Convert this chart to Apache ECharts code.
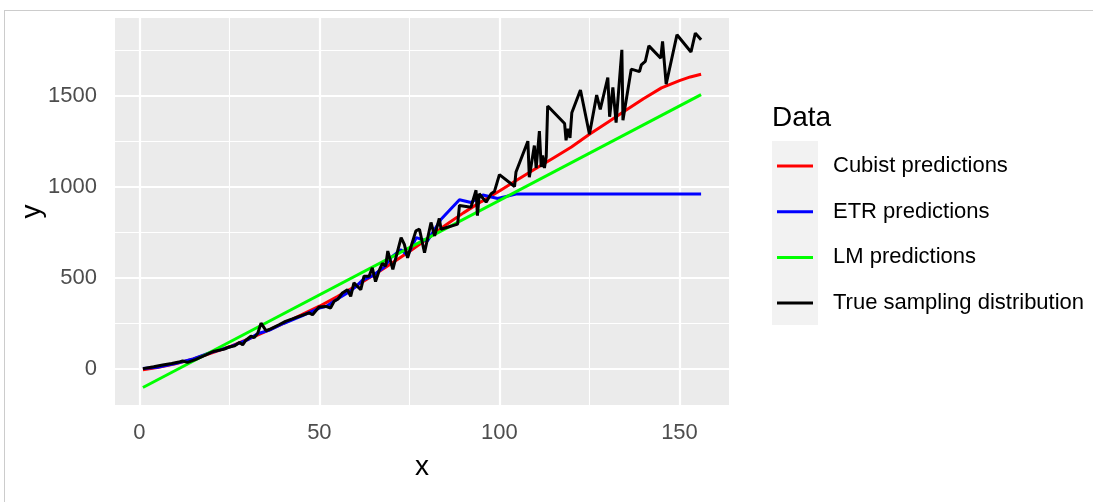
<!DOCTYPE html>
<html>
<head>
    <meta charset="utf-8">
    <style>
        html, body { margin: 0; padding: 0; background: #fff; }
        #chart-container { width: 1093px; height: 502px; }
        #frame {
            position: absolute; left: 4px; top: 10px; right: 0; bottom: 0;
            border-top: 1px solid #cccccc; border-left: 1px solid #cccccc;
            pointer-events: none;
        }
    </style>
</head>
<body>
    <div id="chart-container"></div>
    <div id="frame"></div>

    <script type="text/javascript" src="https://cdn.jsdelivr.net/npm/echarts@6/dist/echarts.min.js"></script>
    <script type="text/javascript">
        // values
        var trueX = [1, 4, 6.5, 9, 11, 12, 13.4, 15.7, 18.5, 20.5, 23.6, 25, 26.5, 27.8, 28.7, 29.6, 31, 31.9, 32.9, 33.8,
            35.2, 36.5, 38.8, 40.6, 42.5, 44.4, 46, 47.1, 48.1, 49.9, 51.8, 53.1, 54.1, 55.2, 56.4, 57.8, 58.7, 59.6, 60.5, 61.5,
            62.4, 63.8, 64.7, 65.6, 66.6, 67.5, 68.4, 69, 70.4, 72.7, 73.6, 74.5, 76.8, 77.8, 79.2, 81, 82, 83.3, 83.8, 88.4,
            88.9, 92.1, 93.5, 93.9, 94.4, 96.3, 97.7, 98.6, 100, 104.2, 104.6, 107.9, 108.3, 109.7, 110.2, 111.1, 111.6, 112, 112.5, 113,
            113.4, 118.1, 118.5, 119, 119.6, 120.1, 122.5, 125, 127, 128, 130.1, 130.6, 131.5, 132.4, 134, 134.3, 136.6, 138.9, 139.4, 140.5,
            141.5, 144.8, 145.3, 146.3, 149.3, 153.2, 154.4, 156];
        var trueY = [2, 12, 22, 30, 38, 44, 36, 53, 77, 96, 109, 121, 128, 145, 133, 158, 180, 172, 197, 252,
            210, 220, 243, 262, 275, 289, 300, 308, 298, 341, 344, 335, 372, 385, 418, 436, 399, 473, 455, 436,
            510, 510, 556, 480, 540, 580, 565, 648, 547, 722, 685, 611, 759, 768, 639, 805, 731, 827, 768, 796,
            899, 889, 982, 843, 963, 917, 963, 975, 1068, 1003, 1083, 1252, 1054, 1228, 1104, 1307, 1110, 1174, 1104, 1166,
            1445, 1349, 1257, 1320, 1270, 1408, 1533, 1290, 1505, 1427, 1602, 1386, 1547, 1354, 1754, 1367, 1648, 1634, 1671, 1690,
            1776, 1708, 1800, 1565, 1837, 1742, 1846, 1809];

        var cubistX = [1, 5, 10, 15, 20, 25, 30, 35, 40, 45, 50, 55, 60, 65, 70, 75, 80, 85, 90, 95,
            100, 105, 110, 115, 120, 125, 130, 135, 140, 145, 150, 153, 156];
        var cubistY = [-4, 8, 28, 55, 88, 122, 162, 205, 250, 297, 345, 398, 455, 515, 580, 645, 715, 790, 858, 920,
            978, 1040, 1100, 1160, 1220, 1290, 1355, 1420, 1485, 1545, 1585, 1605, 1620];

        var etrX = [1, 5, 10, 15, 20, 25, 30, 33, 36, 40, 45, 50, 52, 55, 58, 60, 62, 65, 68, 70,
            72.7, 74.5, 76.9, 80, 83.8, 88.9, 92.1, 95.4, 99.5, 104.6, 156];
        var etrY = [3, 10, 30, 55, 92, 120, 160, 195, 212, 250, 290, 335, 345, 385, 420, 450, 488, 515, 560, 615,
            655, 625, 722, 703, 823, 930, 915, 956, 937, 961, 961];

        var lmX = [1, 156];
        var lmY = [-102, 1508];

        var seriesNames = ['Cubist predictions', 'ETR predictions', 'LM predictions', 'True sampling distribution'];
        var seriesColors = ['#ff0000', '#0000ff', '#00ff00', '#000000'];

        var xMajor = [0, 50, 100, 150];
        var xMinor = [25, 75, 125];
        var yMajor = [0, 500, 1000, 1500];
        var yMinor = [-250, 250, 750, 1250, 1750];

        function zip(xs, ys) {
            return xs.map(function (x, i) { return [x, ys[i]]; });
        }

        var font = 'Liberation Sans, Arial, sans-serif';
        var chart = echarts.init(document.getElementById('chart-container'), null, { renderer: 'canvas' });

        // ggplot style panel grid, drawn under the data lines
        var gridLines = [];
        xMinor.forEach(function (v) { gridLines.push({ xAxis: v, lineStyle: { width: 1.1 } }); });
        yMinor.forEach(function (v) { gridLines.push({ yAxis: v, lineStyle: { width: 1.1 } }); });
        xMajor.forEach(function (v) { gridLines.push({ xAxis: v, lineStyle: { width: 2.2 } }); });
        yMajor.forEach(function (v) { gridLines.push({ yAxis: v, lineStyle: { width: 2.2 } }); });

        var dataSets = [zip(cubistX, cubistY), zip(etrX, etrY), zip(lmX, lmY), zip(trueX, trueY)];
        var series = seriesNames.map(function (name, i) {
            return {
                name: name,
                type: 'line',
                data: dataSets[i],
                showSymbol: false,
                symbol: 'none',
                color: seriesColors[i],
                lineStyle: { width: 3, color: seriesColors[i] },
                z: 3 + i,
                silent: true
            };
        });
        series.unshift({
            name: 'panel-grid',
            type: 'line',
            data: [],
            silent: true,
            markLine: {
                silent: true,
                symbol: 'none',
                z: 1,
                label: { show: false },
                lineStyle: { color: '#ffffff', type: 'solid' },
                emphasis: { disabled: true },
                data: gridLines
            }
        });

        var option = {
            animation: false,
            textStyle: { fontFamily: font },
            title: {
                text: 'Data',
                left: 772,
                top: 104,
                padding: 0,
                textStyle: { fontSize: 28, fontWeight: 'normal', color: '#000', fontFamily: font }
            },
            legend: {
                data: seriesNames,
                orient: 'vertical',
                left: 777,
                top: 153,
                padding: 0,
                icon: 'rect',
                itemWidth: 36,
                itemHeight: 3,
                itemGap: 19.7,
                selectedMode: false,
                textStyle: { fontSize: 22, color: '#000', lineHeight: 26, padding: [0, 0, 0, 15], fontFamily: font }
            },
            graphic: [{
                type: 'rect',
                shape: { x: 772, y: 141, width: 46, height: 184 },
                style: { fill: '#f2f2f2' },
                z: 0,
                silent: true
            }],
            grid: {
                left: 115, right: 364, top: 18, bottom: 97,
                containLabel: false,
                outerBoundsMode: 'none',
                show: true,
                backgroundColor: '#ebebeb',
                borderWidth: 0
            },
            xAxis: {
                type: 'value',
                min: -6.75,
                max: 163.75,
                name: 'x',
                nameLocation: 'middle',
                nameGap: 48,
                nameMoveOverlap: false,
                nameTextStyle: { fontSize: 28, color: '#000', fontFamily: font },
                axisLine: { show: false },
                splitLine: { show: false },
                axisTick: { show: true, length: 7, customValues: xMajor, lineStyle: { color: '#333333', width: 2 } },
                axisLabel: { customValues: xMajor, fontSize: 22, color: '#4d4d4d', margin: 17, fontFamily: font,
                    formatter: function (v) { return String(v); } }
            },
            yAxis: {
                type: 'value',
                min: -198,
                max: 1929,
                name: 'y',
                nameLocation: 'middle',
                nameGap: 69,
                nameMoveOverlap: false,
                nameTextStyle: { fontSize: 28, color: '#000', fontFamily: font },
                axisLine: { show: false },
                splitLine: { show: false },
                axisTick: { show: true, length: 7, customValues: yMajor, lineStyle: { color: '#333333', width: 2 } },
                axisLabel: { customValues: yMajor, fontSize: 22, color: '#4d4d4d', margin: 18, fontFamily: font,
                    formatter: function (v) { return String(v); } }
            },
            series: series
        };
        chart.setOption(option);
    </script>
</body>
</html>
